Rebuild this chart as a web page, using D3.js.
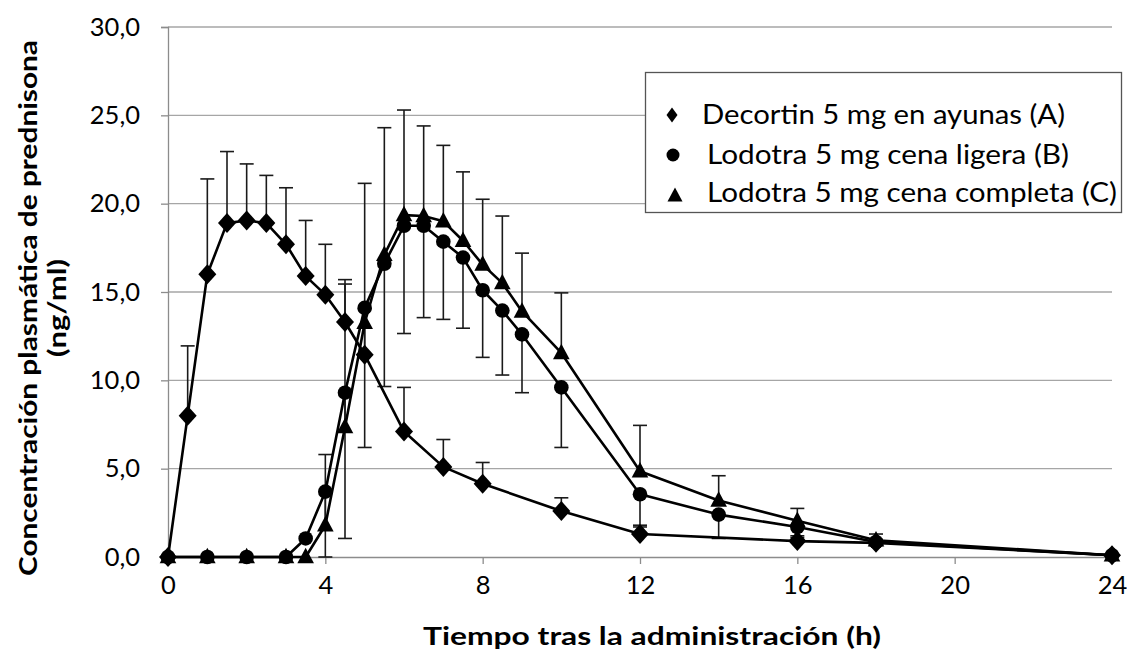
<!DOCTYPE html>
<html>
<head>
<meta charset="utf-8">
<script src="https://cdn.jsdelivr.net/npm/d3@7"></script>
<style>
  html, body { margin: 0; padding: 0; background: #fff; }
  svg { display: block; font-family: Lato, "Open Sans", sans-serif; }
</style>
</head>
<body>
<svg id="chart" width="1127" height="653"></svg>
<script>
// Sampling times (h)
const timesA = [0, 0.5, 1, 1.5, 2, 2.5, 3, 3.5, 4, 4.5, 5, 6, 7, 8, 10, 12, 16, 18, 24];
const timesBC = [0, 1, 2, 3, 3.5, 4, 4.5, 5, 5.5, 6, 6.5, 7, 7.5, 8, 8.5, 9, 10, 12, 14, 16, 18, 24];

// Mean plasma concentration (ng/ml)
const decortin = [0, 8.0, 16.0, 18.9, 19.05, 18.9, 17.7, 15.9, 14.85, 13.3, 11.45, 7.1, 5.1, 4.15, 2.6, 1.3, 0.9, 0.8, 0.1];
const lodotraLight = [0, 0, 0, 0, 1.05, 3.7, 9.3, 14.1, 16.6, 18.75, 18.75, 17.85, 16.95, 15.1, 13.95, 12.6, 9.6, 3.55, 2.4, 1.7, 0.85, 0.1];
const lodotraFull = [0, 0, 0, 0, 0, 1.8, 7.35, 13.25, 17.1, 19.35, 19.3, 19.0, 17.9, 16.55, 15.5, 13.9, 11.55, 4.85, 3.2, 2.05, 0.95, 0.1];

// Error bars: A and C are drawn upwards, B downwards
const errA = [0, 3.95, 5.4, 4.05, 3.2, 2.7, 3.2, 3.15, 2.85, 2.4, 2.6, 2.5, 1.55, 1.2, 0.75, 0.4, 0.3, 0.2, 0];
const errB = [0, 0, 0, 0, 0, 3.7, 8.25, 7.9, 6.95, 6.1, 5.2, 4.4, 4.0, 3.8, 3.65, 3.3, 3.4, 1.75, 1.35, 0.6, 0.2, 0];
const errC = [0, 0, 0, 0, 0, 4.0, 8.1, 7.9, 7.2, 5.95, 5.1, 4.3, 3.9, 3.7, 3.8, 3.3, 3.4, 2.6, 1.4, 0.7, 0.35, 0];

const xTicks = [0, 4, 8, 12, 16, 20, 24];
const yTicks = [0, 5, 10, 15, 20, 25, 30];
const seriesNames = [
  'Decortin 5 mg en ayunas (A)',
  'Lodotra 5 mg cena ligera (B)',
  'Lodotra 5 mg cena completa (C)'
];

const plot = { left: 168, right: 1112, top: 27, bottom: 557 };

const svg = d3.select('#chart');

const x = d3.scaleLinear().domain([0, 24]).range([plot.left, plot.right]);
const y = d3.scaleLinear().domain([0, 30]).range([plot.bottom, plot.top]);

// marker shapes
const shapes = {
  diamond: (w, h) => `M0,${-h}L${w},0L0,${h}L${-w},0Z`,
  circle: (r) => `M${r},0A${r},${r} 0 1,1 ${-r},0A${r},${r} 0 1,1 ${r},0Z`,
  triangle: (w, h) => `M0,${-h * 0.6}L${w},${h * 0.4}L${-w},${h * 0.4}Z`
};

const series = [
  { times: timesA, values: decortin, err: errA, dir: 1, marker: shapes.diamond(9, 10) },
  { times: timesBC, values: lodotraLight, err: errB, dir: -1, marker: shapes.circle(7.3) },
  { times: timesBC, values: lodotraFull, err: errC, dir: 1, marker: shapes.triangle(8.3, 15.5) }
];

// gridlines
svg.append('g')
  .selectAll('line')
  .data(yTicks.filter((d) => d > 0))
  .join('line')
  .attr('x1', plot.left)
  .attr('x2', plot.right)
  .attr('y1', (d) => y(d))
  .attr('y2', (d) => y(d))
  .attr('stroke', '#a6a6a6')
  .attr('stroke-width', 1.3);

// axes
const xAxis = svg.append('g')
  .attr('transform', `translate(0,${plot.bottom})`)
  .call(d3.axisBottom(x).tickValues(xTicks).tickSize(7).tickPadding(11).tickFormat(d3.format('d')));
const yAxis = svg.append('g')
  .attr('transform', `translate(${plot.left},0)`)
  .call(d3.axisLeft(y).tickValues(yTicks).tickSize(7).tickPadding(21).tickFormat((d) => d.toFixed(1).replace('.', ',')));

[xAxis, yAxis].forEach((axis) => {
  axis.select('.domain').attr('stroke', '#8c8c8c').attr('stroke-width', 1.3);
  axis.selectAll('.tick line').attr('stroke', '#8c8c8c').attr('stroke-width', 1.3);
  axis.selectAll('.tick text')
    .attr('fill', '#000')
    .style('font-family', 'Lato, sans-serif')
    .style('font-size', '25.5px');
});
xAxis.selectAll('.tick text').attr('dy', '0.75em');

// error bars
const errGroup = svg.append('g').attr('stroke', '#1a1a1a').attr('stroke-width', 1.6);
series.forEach((s) => {
  const rows = s.times
    .map((t, i) => ({ t, v: s.values[i], e: s.err[i] }))
    .filter((d) => d.e > 0);
  const g = errGroup.append('g');
  g.selectAll('line.bar')
    .data(rows)
    .join('line')
    .attr('class', 'bar')
    .attr('x1', (d) => x(d.t))
    .attr('x2', (d) => x(d.t))
    .attr('y1', (d) => y(d.v))
    .attr('y2', (d) => y(d.v + s.dir * d.e));
  g.selectAll('line.cap')
    .data(rows)
    .join('line')
    .attr('class', 'cap')
    .attr('x1', (d) => x(d.t) - 7)
    .attr('x2', (d) => x(d.t) + 7)
    .attr('y1', (d) => y(d.v + s.dir * d.e))
    .attr('y2', (d) => y(d.v + s.dir * d.e));
});

// lines and markers
const line = d3.line().x((d) => x(d.t)).y((d) => y(d.v));
series.forEach((s) => {
  const rows = s.times.map((t, i) => ({ t, v: s.values[i] }));
  svg.append('path')
    .datum(rows)
    .attr('d', line)
    .attr('fill', 'none')
    .attr('stroke', '#000')
    .attr('stroke-width', 2.6)
    .attr('stroke-linejoin', 'round');
  svg.append('g')
    .selectAll('path')
    .data(rows)
    .join('path')
    .attr('transform', (d) => `translate(${x(d.t)},${y(d.v)})`)
    .attr('d', s.marker)
    .attr('fill', '#000');
});

// legend
const legend = svg.append('g');
legend.append('rect')
  .attr('x', 645.5)
  .attr('y', 72.5)
  .attr('width', 476)
  .attr('height', 140)
  .attr('fill', '#fff')
  .attr('stroke', '#555')
  .attr('stroke-width', 1.3);

const legendMarkers = [shapes.diamond(5.5, 7.5), shapes.circle(6.5), shapes.triangle(7.5, 14)];
const legendRows = [
  { mx: 672, my: 115, tx: 702, ty: 124, len: 363 },
  { mx: 673, my: 155, tx: 707, ty: 164, len: 362 },
  { mx: 675, my: 196, tx: 707, ty: 202, len: 410 }
];
legendRows.forEach((r, i) => {
  legend.append('path')
    .attr('transform', `translate(${r.mx},${r.my})`)
    .attr('d', legendMarkers[i])
    .attr('fill', '#000');
  legend.append('text')
    .attr('x', r.tx)
    .attr('y', r.ty)
    .attr('textLength', r.len)
    .attr('lengthAdjust', 'spacingAndGlyphs')
    .style('font-size', '26px')
    .text(seriesNames[i]);
});

// axis titles
svg.append('text')
  .attr('x', 652)
  .attr('y', 645)
  .attr('text-anchor', 'middle')
  .attr('textLength', 458)
  .attr('lengthAdjust', 'spacingAndGlyphs')
  .style('font-size', '25px')
  .style('font-weight', 'bold')
  .text('Tiempo tras la administración (h)');

const yTitle = svg.append('g').attr('transform', 'translate(0,308) rotate(-90)');
yTitle.append('text')
  .attr('x', 0)
  .attr('y', 37)
  .attr('text-anchor', 'middle')
  .attr('textLength', 536)
  .attr('lengthAdjust', 'spacingAndGlyphs')
  .style('font-size', '25px')
  .style('font-weight', 'bold')
  .text('Concentración  plasmática de prednisona');
yTitle.append('text')
  .attr('x', 0)
  .attr('y', 66)
  .attr('text-anchor', 'middle')
  .attr('textLength', 98)
  .attr('lengthAdjust', 'spacingAndGlyphs')
  .style('font-size', '25px')
  .style('font-weight', 'bold')
  .text('(ng/ml)');
</script>
</body>
</html>
